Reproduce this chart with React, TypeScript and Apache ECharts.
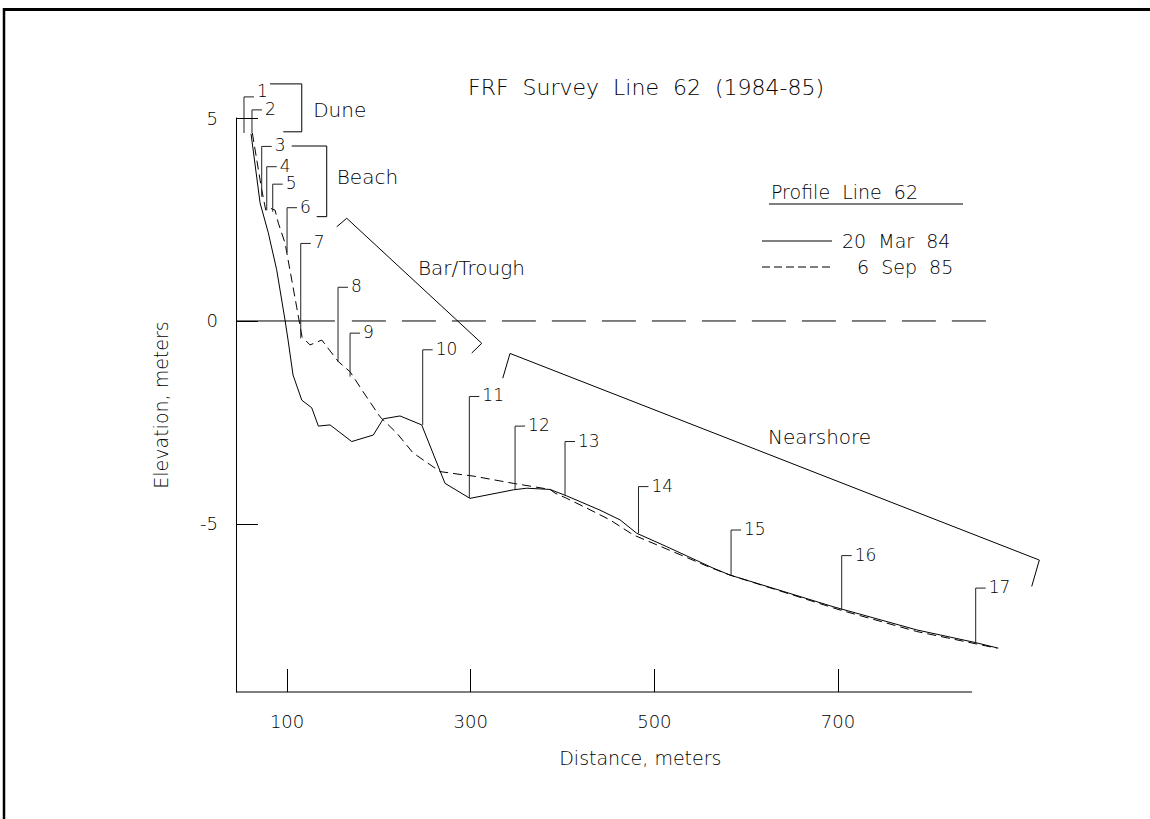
import React, { useEffect, useRef } from "react";
import * as echarts from "echarts";

// ---- axis ranges & ticks ----
const X_MIN = 44.4;
const X_AXIS_END = 845.9; // where the drawn x-axis line stops
const X_MAX = 925; // plotting extent (profiles run past the axis end)
const Y_MIN = -9.14;
const Y_MAX = 5;
const xTicks = [100, 300, 500, 700];
const yTicks = [5, 0, -5];

// ---- profiles (distance m, elevation m) ----
const profileMar84 = [
  [60.8, 4.61], [70.6, 2.91], [79.6, 2.17], [88.7, 1.26], [97.8, 0.02], [101.1, -0.47],
  [106.5, -1.33], [116.0, -1.95], [126.9, -2.14], [134.1, -2.59], [146.8, -2.56],
  [170.4, -2.97], [193.9, -2.81], [204.8, -2.41], [223.0, -2.34], [246.6, -2.56],
  [272.0, -4.0], [299.2, -4.37], [346.4, -4.16], [361.0, -4.12], [386.4, -4.15],
  [404.6, -4.31], [440.8, -4.66], [462.6, -4.9], [480.8, -5.23], [513.5, -5.56],
  [564.2, -6.09], [582.4, -6.26], [694.9, -7.04], [785.7, -7.61], [849.2, -7.92],
  [874.6, -8.06],
];
const profileSep85 = [
  [62.2, 4.63], [72.4, 3.23], [76.8, 2.73], [81.5, 2.78], [86.9, 2.73], [90.5, 2.41],
  [97.8, 1.92], [105.1, 1.01], [110.5, 0.34], [116.3, -0.39], [125.0, -0.59],
  [137.8, -0.47], [155.8, -1.0], [168.6, -1.25], [182.7, -1.74], [201.2, -2.36],
  [219.4, -2.76], [237.2, -3.25], [266.6, -3.71], [288.3, -3.78], [302.5, -3.82],
  [346.4, -4.0], [386.4, -4.15], [391.8, -4.24], [404.6, -4.37], [426.3, -4.61],
  [451.7, -4.9], [477.1, -5.27], [560.6, -6.07], [582.4, -6.26], [702.2, -7.12],
  [785.7, -7.65], [872.8, -8.06],
];

// ---- survey stations ----
const stationNames = ["1", "2", "3", "4", "5", "6", "7", "8", "9", "10", "11", "12", "13", "14", "15", "16", "17"];
const stationX = [53.1, 61.8, 72.4, 77.9, 84.4, 100.0, 114.9, 155.5, 168.6, 247.7, 298.5, 348.3, 402.7, 482.7, 583.5, 704.0, 849.9];
const stationBottom = [4.63, 4.63, 3.06, 2.73, 2.69, 1.68, -0.43, -1.01, -1.37, -2.56, -4.36, -4.16, -4.29, -5.23, -6.26, -7.12, -7.92];
const stationTop = [5.52, 5.2, 4.3, 3.8, 3.37, 2.79, 1.91, 0.83, -0.3, -0.71, -1.86, -2.59, -2.97, -4.08, -5.15, -5.78, -6.58];

// ---- zero (mean sea level) line ----
const zeroSolid = [[X_MIN, 0], [152.1, 0]];
const zeroDashed = [[170.6, 0], [861.0, 0]];
const xAxisBase = [[X_MIN, Y_MIN], [X_AXIS_END, Y_MIN]];

// ---- zone brackets ----
const duneBracket = [[81.5, 5.84], [116.0, 5.84], [116.0, 4.66], [95.9, 4.66]];
const beachBracket = [[105.1, 4.31], [143.2, 4.31], [143.2, 2.57], [132.3, 2.57]];
const barBracket = [[154.1, 2.32], [165.0, 2.53], [312.0, -0.55], [301.1, -0.79]];
const nearshoreBracket = [[334.9, -1.41], [342.8, -0.8], [919.2, -5.89], [910.9, -6.54]];
const zoneNames = ["Dune", "Beach", "Bar/Trough", "Nearshore"];
const zoneLabelPos = [[128.5, 5.2], [154.1, 3.55], [242.6, 1.31], [623.7, -2.86]];

const FONT = "'DejaVu Sans', 'Liberation Sans', sans-serif";
const FW = 200;
const INK = "#000";

function lineSeries(data: number[][], type: any = "solid", width = 1) {
  return {
    type: "line",
    data,
    symbol: "none",
    clip: false,
    silent: true,
    lineStyle: { color: INK, width, type },
    z: 3,
  };
}

export default function App() {
  const ref = useRef<HTMLDivElement>(null);

  useEffect(() => {
    if (!ref.current) return;
    const chart = echarts.init(ref.current, undefined, { renderer: "svg" });

    const stationData = stationX.map((x, i) => [x, stationBottom[i], stationTop[i]]);
    const zoneData = zoneLabelPos.map((p) => [p[0], p[1]]);
    const pxPerM = 0.9183;
    const gridWidth = (X_MAX - X_MIN) * pxPerM;

    const txt = (text: string, x: number, y: number, size: number, align = "left") => ({
      type: "text",
      x,
      y,
      style: { text, fontSize: size, fontFamily: FONT, fontWeight: FW, fill: INK, align, verticalAlign: "middle" },
    });

    const option: any = {
      animation: false,
      backgroundColor: "#fff",
      grid: { left: 236, top: 118, width: gridWidth, height: 574, containLabel: false },
      xAxis: {
        type: "value",
        min: X_MIN,
        max: X_MAX,
        splitLine: { show: false },
        axisLine: { show: false, onZero: false },
        axisTick: { show: true, inside: true, length: 23, customValues: xTicks, lineStyle: { color: INK, width: 1 } },
        axisLabel: { show: true, customValues: xTicks, margin: 20, fontSize: 18, fontWeight: FW, color: INK, fontFamily: FONT },
        name: "Distance, meters",
        nameLocation: "middle",
        nameGap: 56,
        nameTextStyle: { fontSize: 19, fontWeight: FW, color: INK, fontFamily: FONT, padding: [0, 0, 0, 0] },
      },
      yAxis: {
        type: "value",
        min: Y_MIN,
        max: Y_MAX,
        splitLine: { show: false },
        axisLine: { show: true, onZero: false, lineStyle: { color: INK, width: 1 } },
        axisTick: { show: true, inside: true, length: 22, customValues: yTicks, lineStyle: { color: INK, width: 1 } },
        axisLabel: { show: true, customValues: yTicks, margin: 18, fontSize: 18, fontWeight: FW, color: INK, fontFamily: FONT },
        name: "Elevation, meters",
        nameLocation: "middle",
        nameRotate: 90,
        nameGap: 66,
        nameTextStyle: { fontSize: 19, fontWeight: FW, color: INK, fontFamily: FONT },
      },
      graphic: [
        { type: "line", shape: { x1: 3, y1: 9.5, x2: 1150, y2: 9.5 }, style: { stroke: INK, lineWidth: 3 } },
        { type: "line", shape: { x1: 4, y1: 8, x2: 4, y2: 819 }, style: { stroke: INK, lineWidth: 2.5 } },
        txt("FRF  Survey  Line  62  (1984-85)", 646, 87, 22, "center"),
        txt("Profile  Line  62", 771, 192, 19),
        { type: "line", shape: { x1: 769, y1: 204, x2: 963, y2: 204 }, style: { stroke: INK, lineWidth: 1 } },
        { type: "line", shape: { x1: 762, y1: 241, x2: 832, y2: 241 }, style: { stroke: INK, lineWidth: 1 } },
        txt("20  Mar  84", 842, 241, 19),
        { type: "line", shape: { x1: 762, y1: 267, x2: 832, y2: 267 }, style: { stroke: INK, lineWidth: 1, lineDash: [8, 4] } },
        txt("6  Sep  85", 857, 267, 19),
      ],
      series: [
        lineSeries(xAxisBase, "solid"),
        lineSeries(zeroSolid, "solid"),
        lineSeries(zeroDashed, [34, 16]),
        lineSeries(profileMar84, "solid"),
        lineSeries(profileSep85, [9, 5]),
        lineSeries(duneBracket, "solid"),
        lineSeries(beachBracket, "solid"),
        lineSeries(barBracket, "solid"),
        lineSeries(nearshoreBracket, "solid"),
        {
          type: "custom",
          clip: false,
          silent: true,
          data: stationData,
          z: 4,
          renderItem: (params: any, api: any) => {
            const b = api.coord([api.value(0), api.value(1)]);
            const t = api.coord([api.value(0), api.value(2)]);
            const dy = params.dataIndex === 0 ? -6 : -1;
            return {
              type: "group",
              children: [
                {
                  type: "polyline",
                  shape: { points: [b, t, [t[0] + 10, t[1]]] },
                  style: { stroke: "#222", lineWidth: 1, fill: null },
                },
                {
                  type: "text",
                  style: {
                    text: stationNames[params.dataIndex],
                    x: t[0] + 13,
                    y: t[1] + dy,
                    fontSize: 17,
                    fontFamily: FONT,
                    fontWeight: FW,
                    fill: INK,
                    align: "left",
                    verticalAlign: "middle",
                  },
                },
              ],
            };
          },
        },
        {
          type: "custom",
          clip: false,
          silent: true,
          data: zoneData,
          z: 4,
          renderItem: (params: any, api: any) => {
            const p = api.coord([api.value(0), api.value(1)]);
            return {
              type: "text",
              style: {
                text: zoneNames[params.dataIndex],
                x: p[0],
                y: p[1],
                fontSize: 20,
                fontFamily: FONT,
                fontWeight: FW,
                fill: INK,
                align: "left",
                verticalAlign: "middle",
              },
            };
          },
        },
      ],
    };

    chart.setOption(option);
    return () => chart.dispose();
  }, []);

  return (
    <div
      ref={ref}
      style={{ position: "absolute", left: 0, top: 0, width: 1150, height: 819, background: "#fff" }}
    />
  );
}
